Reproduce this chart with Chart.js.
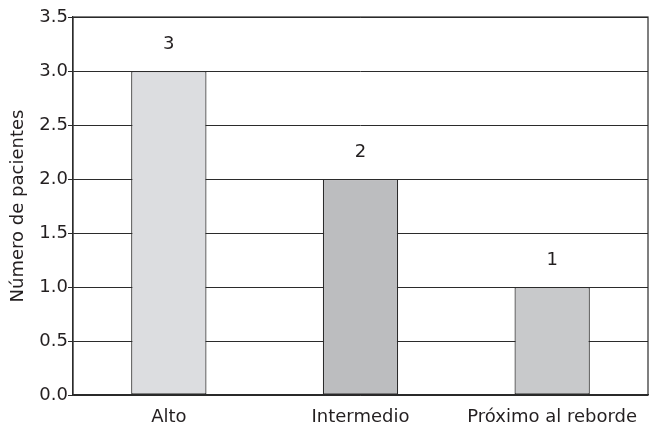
<!DOCTYPE html>
<html>
<head>
<meta charset="utf-8">
<script src="https://cdn.jsdelivr.net/npm/chart.js@4"></script>
<style>
    html, body { margin: 0; padding: 0; background: #fff; }
    #wrap { width: 651px; height: 429px; }
</style>
</head>
<body>
<div id="wrap"><canvas id="chart" width="651" height="429"></canvas></div>
<script>
// Chart data
const categories = ['Alto', 'Intermedio', 'Próximo al reborde'];
const patients = [3, 2, 1];
const barColors = ['#dcdde0', '#bcbdbf', '#c8c9cb'];
const yTicks = [0, 0.5, 1, 1.5, 2, 2.5, 3, 3.5];

const FONT = '"DejaVu Sans", Verdana, sans-serif';
const INK = '#231f20';
const LINE = '#2b2b2b';

// Frame around the plot area (top and right sides too)
const framePlugin = {
    id: 'frame',
    afterDraw(chart) {
        const { ctx, chartArea: a } = chart;
        ctx.save();
        ctx.strokeStyle = LINE;
        ctx.lineWidth = 1.2;
        ctx.strokeRect(a.left, a.top, a.right - a.left, a.bottom - a.top);
        ctx.restore();
    }
};

// Value labels above the bars
const valueLabels = {
    id: 'valueLabels',
    afterDatasetsDraw(chart) {
        const { ctx } = chart;
        const meta = chart.getDatasetMeta(0);
        ctx.save();
        ctx.fillStyle = INK;
        ctx.font = '18px ' + FONT;
        ctx.textAlign = 'center';
        ctx.textBaseline = 'middle';
        meta.data.forEach((bar, i) => {
            ctx.fillText(String(patients[i]), bar.x, bar.y - 27);
        });
        ctx.restore();
    }
};

new Chart(document.getElementById('chart'), {
    type: 'bar',
    data: {
        labels: categories,
        datasets: [{
            data: patients,
            backgroundColor: barColors,
            borderColor: LINE,
            borderWidth: 1.2,
            borderSkipped: false,
            barPercentage: 0.393,
            categoryPercentage: 1
        }]
    },
    options: {
        responsive: false,
        animation: false,
        devicePixelRatio: 1,
        layout: { padding: { top: 17, right: 3, left: 0, bottom: 0 } },
        plugins: {
            legend: { display: false },
            tooltip: { enabled: false }
        },
        scales: {
            x: {
                grid: { display: false, drawTicks: false },
                border: { color: LINE, width: 1.2 },
                ticks: { color: INK, font: { family: FONT, size: 18 }, padding: 12, maxRotation: 0 },
                afterFit(scale) { scale.height = 34; }
            },
            y: {
                min: 0,
                max: 3.5,
                afterBuildTicks(scale) { scale.ticks = yTicks.map(v => ({ value: v })); },
                grid: { color: LINE, lineWidth: 1, tickLength: 5, drawTicks: true, tickColor: LINE },
                border: { color: LINE, width: 1.2 },
                ticks: {
                    color: INK,
                    font: { family: FONT, size: 18 },
                    padding: 0,
                    callback: v => Number(v).toFixed(1)
                },
                title: {
                    display: true,
                    text: 'Número de pacientes',
                    color: INK,
                    font: { family: FONT, size: 18 },
                    padding: { top: 8, bottom: 0 }
                },
                afterFit(scale) { scale.width = 73; }
            }
        }
    },
    plugins: [framePlugin, valueLabels]
});
</script>
</body>
</html>
